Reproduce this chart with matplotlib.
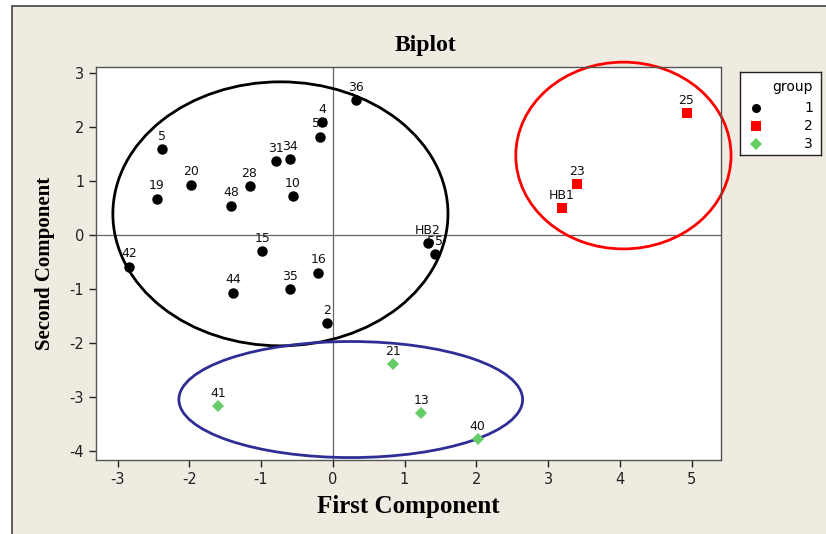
import matplotlib
matplotlib.use("Agg")
import matplotlib.pyplot as plt
from matplotlib.patches import Ellipse, Rectangle

plt.rcParams["axes.unicode_minus"] = False

# Puntos del biplot por grupo (componentes 1 y 2)
g1_labels = ["36", "4", "58", "5", "20", "19", "48", "28", "31", "34", "10",
             "15", "42", "16", "44", "35", "2", "HB2", "55"]
g1_x = [0.32, -0.15, -0.18, -2.38, -1.98, -2.45, -1.42, -1.16, -0.79, -0.60,
        -0.56, -0.98, -2.84, -0.20, -1.39, -0.60, -0.08, 1.32, 1.42]
g1_y = [2.50, 2.09, 1.82, 1.59, 0.93, 0.67, 0.54, 0.91, 1.37, 1.41,
        0.72, -0.30, -0.59, -0.70, -1.07, -1.00, -1.63, -0.15, -0.35]

g2_labels = ["25", "23", "HB1"]
g2_x = [4.93, 3.40, 3.19]
g2_y = [2.26, 0.94, 0.50]

g3_labels = ["21", "41", "13", "40"]
g3_x = [0.84, -1.60, 1.23, 2.02]
g3_y = [-2.39, -3.17, -3.30, -3.78]

# Elipses: centro x, centro y, ancho, alto
ell_centers = [(-0.73, 0.39), (4.05, 1.47), (0.25, -3.05)]
ell_sizes = [(4.67, 4.89), (3.00, 3.46), (4.79, 2.15)]
ell_colors = ["black", "#ff0000", "#2e2e96"]

xticks = [-3, -2, -1, 0, 1, 2, 3, 4, 5]
yticks = [-4, -3, -2, -1, 0, 1, 2, 3]

BG = "#efebe1"
W, H = 826, 534

fig = plt.figure(figsize=(W / 100, H / 100), dpi=100, facecolor="white")
# marco beige con borde
fig.patches.append(Rectangle((12 / W, -0.1), 1.2, 1 - 6 / H + 0.1,
                             transform=fig.transFigure, facecolor=BG,
                             edgecolor="#444444", lw=1.2, zorder=-10))

ax = fig.add_axes([96 / W, 1 - 460 / H, (721 - 96) / W, (460 - 67) / H])
ax.set_facecolor("white")
ax.set_xlim(-3.30, 5.41)
ax.set_ylim(-4.17, 3.11)

ax.axhline(0, color="#666666", lw=0.9, zorder=1)
ax.axvline(0, color="#666666", lw=0.9, zorder=1)

for (cx, cy), (w, h), c in zip(ell_centers, ell_sizes, ell_colors):
    ax.add_patch(Ellipse((cx, cy), w, h, fill=False, edgecolor=c, lw=2.0,
                         clip_on=False, zorder=2))

ax.plot(g1_x, g1_y, "o", color="black", ms=6.5, zorder=4, clip_on=False)
ax.plot(g2_x, g2_y, "s", color="#ff0000", ms=6.5, mew=0, zorder=4)
ax.plot(g3_x, g3_y, "D", color="#66cc66", ms=6.5, mew=0, zorder=4)

for labs, xs, ys in ((g1_labels, g1_x, g1_y), (g2_labels, g2_x, g2_y),
                     (g3_labels, g3_x, g3_y)):
    for lab, x, y in zip(labs, xs, ys):
        ax.annotate(lab, (x, y), xytext=(0, 4.5), textcoords="offset points",
                    ha="center", va="bottom", fontsize=9, color="#111111",
                    family="DejaVu Sans", zorder=3)

ax.set_xticks(xticks)
ax.set_yticks(yticks)
ax.tick_params(direction="out", length=5, width=1, labelsize=10.5,
               colors="#222222")
for s in ax.spines.values():
    s.set_color("#555555")
    s.set_linewidth(1.0)

fig.text(425 / W, 1 - 45 / H, "Biplot", ha="center", va="center",
         fontsize=17, fontweight="bold", family="Liberation Serif")
fig.text(408 / W, 1 - 507 / H, "First Component", ha="center", va="center",
         fontsize=18, fontweight="bold", family="Liberation Serif")
fig.text(45 / W, 1 - 263 / H, "Second Component", ha="center", va="center",
         rotation=90, fontsize=15, fontweight="bold", family="Liberation Serif")

# leyenda manual
lg = fig.add_axes([740 / W, 1 - 155 / H, 81 / W, 83 / H])
lg.set_xlim(0, 1)
lg.set_ylim(0, 1)
lg.set_xticks([])
lg.set_yticks([])
lg.set_facecolor("white")
for s in lg.spines.values():
    s.set_color("#222222")
    s.set_linewidth(1.0)
lg.text(0.9, 0.82, "group", ha="right", va="center", fontsize=10)
leg_y = [0.57, 0.35, 0.13]
leg_m = [("o", "black"), ("s", "#ff0000"), ("D", "#66cc66")]
for yy, (m, c), lab in zip(leg_y, leg_m, ["1", "2", "3"]):
    lg.plot([0.2], [yy], m, color=c, ms=6.5, mew=0)
    lg.text(0.9, yy, lab, ha="right", va="center", fontsize=10)

fig.savefig("out.png", dpi=100, facecolor="white")
